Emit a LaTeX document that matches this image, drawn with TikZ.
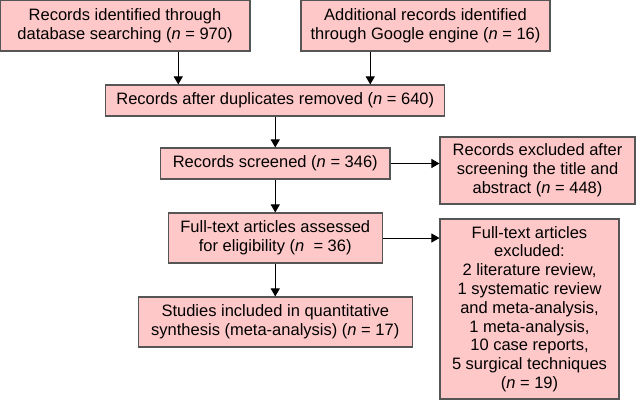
\documentclass[tikz,border=0pt]{standalone}
\usepackage{fontspec}
\setmainfont{Liberation Sans}
\usetikzlibrary{arrows.meta,positioning,calc}
\definecolor{boxfill}{RGB}{255,200,200}
\definecolor{boxline}{RGB}{85,85,85}
\tikzset{
  box/.style={draw=boxline, fill=boxfill, line width=1.1pt, align=center, inner sep=2pt,
    font=\fontsize{16.5}{18.8}\selectfont},
}
\begin{document}
\begin{tikzpicture}[x=1pt, y=1pt, ->, >={Triangle[length=8pt,width=9pt]}, line width=0.9pt]
\useasboundingbox (0,0) rectangle (636,-401);
\node[box, minimum width=250pt, minimum height=51pt] (recs) at (125,-25.5) {Records identified through\\database searching (\textit{n} = 970)};
\node[box, minimum width=249pt, minimum height=51pt, right of=recs, node distance=300.5pt] (extra) {Additional records identified\\through Google engine (\textit{n} = 16)};

\node[box, minimum width=339pt, minimum height=31pt] (dupl) at ($(recs)!.5!(extra)+(0,-75)$) {Records after duplicates removed (\textit{n} = 640)};
\node[box, minimum width=229.5pt, minimum height=31pt, below of=dupl, node distance=63pt] (screen) {Records screened (\textit{n} = 346)};
\node[box, minimum width=214pt, minimum height=50pt, below of=screen, node distance=74.5pt] (full) {Full-text articles assessed\\for eligibility (\textit{n}~ = 36)};
\node[box, minimum width=274pt, minimum height=50pt, below of=full, node distance=84pt] (incl) {Studies included in quantitative\\synthesis (meta-analysis) (\textit{n} = 17)};

\node[box, minimum width=195pt, minimum height=67pt] (exscr) at (537.5,-170.5) {Records excluded after\\screening the title and\\abstract (\textit{n} = 448)};
\node[box, minimum width=179pt, minimum height=180pt] (exfull) at (529.5,-309) {Full-text articles\\excluded:\\2 literature review,\\1 systematic review\\and meta-analysis,\\1 meta-analysis,\\10 case reports,\\5 surgical techniques\\(\textit{n} = 19)};

\coordinate (c1) at ($(dupl.north)+(-97,0)$);
\coordinate (c2) at ($(dupl.north)+(95,0)$);

\draw (recs.south -| c1) -- (c1);
\draw (extra.south -| c2) -- (c2);
\draw (dupl) -- (screen);
\draw (screen) -- (screen -| exscr.west);
\draw (screen) -- (full);
\draw (full) -- (full -| exfull.west);
\draw (full) -- (incl);
\end{tikzpicture}
\end{document}
